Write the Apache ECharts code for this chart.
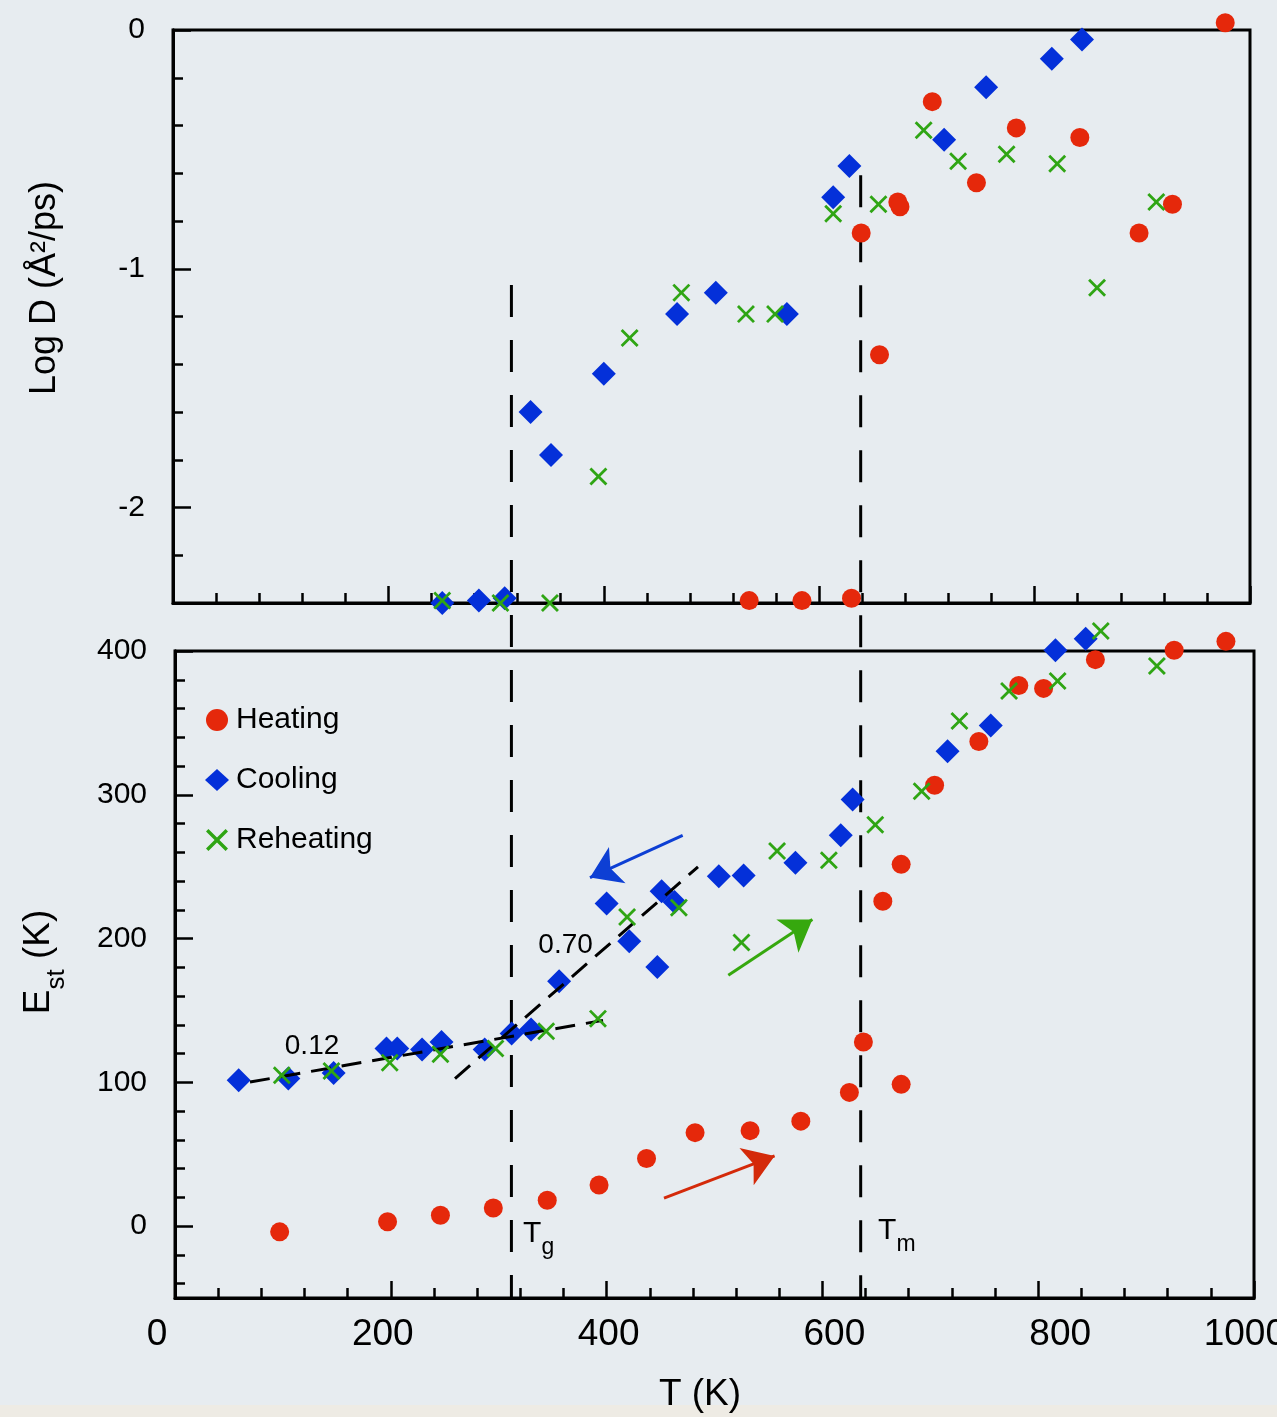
<!DOCTYPE html>
<html>
<head>
<meta charset="utf-8">
<script src="https://cdn.jsdelivr.net/npm/echarts@6.0.0/dist/echarts.min.js"></script>
<style>
  html, body { margin: 0; padding: 0; background: #e7ecf0; }
  #chart { width: 1277px; height: 1417px; }
</style>
</head>
<body>
<div id="chart"></div>
<script>
const FONT = '"Liberation Sans", Arial, Helvetica, sans-serif'

// --- top panel: Log D vs T
const heatTopT = [535, 584, 630, 639, 656, 673, 675, 705, 746, 783, 842, 897, 928, 977]
const heatTopD = [-2.39, -2.39, -2.38, -0.85, -1.36, -0.72, -0.74, -0.30, -0.64, -0.41, -0.45, -0.85, -0.73, 0.03]
const coolTopT = [250, 284, 308, 332, 351, 400, 468, 504, 570, 613, 628, 716, 755, 816, 844]
const coolTopD = [-2.40, -2.39, -2.38, -1.60, -1.78, -1.44, -1.19, -1.10, -1.19, -0.70, -0.57, -0.46, -0.24, -0.12, -0.04]
const reheatTopT = [250, 304, 350, 395, 424, 472, 532, 559, 613, 655, 697, 729, 774, 821, 858, 913]
const reheatTopD = [-2.39, -2.40, -2.40, -1.87, -1.29, -1.10, -1.19, -1.19, -0.77, -0.73, -0.42, -0.55, -0.52, -0.56, -1.08, -0.72]

// --- bottom panel: E_st vs T
const heatT = [97, 197, 246, 295, 345, 393, 437, 482, 533, 580, 625, 638, 673, 656, 673, 704, 745, 782, 805, 853, 926, 974]
const heatE = [-4, 3, 7.5, 12.6, 18, 28.6, 47, 65, 66.4, 73, 93, 128, 98.6, 226, 251.6, 306.6, 337, 376, 374, 394, 400.5, 406.7]
const coolT = [59, 105, 147, 196, 206, 229, 247, 287, 312, 330, 356, 400, 421, 447, 451, 463, 504, 527, 575, 617, 628, 716, 756, 816, 844]
const coolE = [101.4, 102.6, 106.5, 123.5, 123.5, 122.8, 128, 122.8, 133.9, 136.7, 170.3, 224.3, 198.1, 180.2, 232.9, 225.4, 243.3, 243.8, 252.8, 271.8, 296.8, 330.2, 348.1, 400.5, 408.6]
const reheatT = [99, 145, 199, 246, 297, 344, 392, 419, 467, 525, 558, 606, 649, 692, 727, 773, 818, 858, 910]
const reheatE = [104.9, 107.9, 113.7, 119.5, 123.5, 135.5, 144.3, 215, 221.5, 197.2, 260.9, 254.4, 279.2, 302.4, 351.3, 372.2, 379.1, 413.9, 389.6]

// dashed fits (slopes 0.12 and 0.70)
const fitLow = [[69.5, 100.2], [396.7, 143.1]]
const fitHigh = [[259.5, 102.6], [484.7, 249.8]]

// arrows [tail, head]
const arrowCool = [[470.5, 271.8], [384.6, 242.4]]
const arrowReheat = [[512.8, 174.4], [590.7, 213.2]]
const arrowHeat = [[453.2, 19.5], [555.7, 48.8]]

// Tg / Tm marker lines (overlay axis in E_st units)
const tgLine = [[313, 654.6], [313, -50]]
const tmLine = [[637, 731], [637, -50]]

// text annotations
const notes = [
  { value: [127, 125], text: '{n|0.12}' },
  { value: [362, 195.3], text: '{n|0.70}' },
  { value: [337, -9], text: '{a|T}{s|g}' },
  { value: [669, -7], text: '{a|T}{s|m}' }
]

// ticks
const topMajor = [-2, -1, 0]
const topMinor = []
for (let v = -2.2; v < 0.01; v += 0.2) topMinor.push(Math.round(v * 10) / 10)
const botMajor = [0, 100, 200, 300, 400]
const botMinor = []
for (let v = -40; v <= 400; v += 20) botMinor.push(v)

const RED = '#e5280b'
const BLUE = '#0430d9'
const GREEN = '#2fa514'
const crossPath = 'path://M0,1.1L1.1,0L5,3.9L8.9,0L10,1.1L6.1,5L10,8.9L8.9,10L5,6.1L1.1,10L0,8.9L3.9,5Z'

const pairs = (xs, ys) => xs.map((x, i) => [x, ys[i]])

const axisLine = { show: true, onZero: false, lineStyle: { color: '#000', width: 3 } }

const xAxisBase = gridIndex => ({
  type: 'value', gridIndex, min: 0, max: 1000, interval: 200, position: 'bottom',
  axisLine,
  axisTick: { inside: true, length: 17, lineStyle: { color: '#000', width: 2.5 } },
  minorTick: { show: true, splitNumber: 5, length: 10, lineStyle: { color: '#000', width: 2.5 } },
  splitLine: { show: false },
  axisLabel: { show: false }
})

const yAxisPair = (gridIndex, min, max, minor, major, fmt) => [
  {
    type: 'value', gridIndex, min, max, position: 'left',
    axisLine,
    axisTick: { inside: true, length: 10, customValues: minor, lineStyle: { color: '#000', width: 2.5 } },
    axisLabel: { show: false },
    splitLine: { show: false }
  },
  {
    type: 'value', gridIndex, min, max, position: 'left',
    axisLine,
    axisTick: { inside: true, length: 18, customValues: major, lineStyle: { color: '#000', width: 2.5 } },
    axisLabel: { customValues: major, fontSize: 30, fontFamily: FONT, color: '#000', margin: 28, formatter: fmt },
    splitLine: { show: false }
  }
]

const scatter = (name, data, xi, yi, kind) => {
  const s = {
    name, type: 'scatter', data, xAxisIndex: xi, yAxisIndex: yi, clip: false,
    emphasis: { disabled: true }
  }
  if (kind === 'heat') Object.assign(s, { symbol: 'circle', symbolSize: 19, itemStyle: { color: RED, opacity: 1 }, z: 3 })
  if (kind === 'cool') Object.assign(s, { symbol: 'diamond', symbolSize: 24, itemStyle: { color: BLUE, opacity: 1 }, z: 4 })
  if (kind === 'reheat') Object.assign(s, { symbol: crossPath, symbolSize: 18, itemStyle: { color: GREEN, opacity: 1 }, z: 6 })
  return s
}

const dashLine = (data, xi, yi, dash, z) => ({
  type: 'line', data, xAxisIndex: xi, yAxisIndex: yi, symbol: 'none', silent: true,
  lineStyle: { color: '#000', width: 3, type: dash }, z
})

const arrow = (coords, color) => ({ coords, lineStyle: { color } })

const gridBox = { show: true, borderColor: '#000', borderWidth: 3, backgroundColor: 'transparent', outerBoundsMode: 'none', containLabel: false }

const option = {
  animation: false,
  backgroundColor: '#e7ecf0',
  textStyle: { fontFamily: FONT },
  grid: [
    { left: 173, right: 27, top: 30, bottom: 814, ...gridBox },
    { left: 175, right: 23, top: 651, bottom: 119, ...gridBox },
    { left: 174, right: 25, top: 30, bottom: 119, show: false, outerBoundsMode: 'none' },
    // T tick labels sit on a slightly wider span than the ticks in the original
    { left: 157, right: -9, top: 651, bottom: 119, show: false, outerBoundsMode: 'none' }
  ],
  xAxis: [
    xAxisBase(0),
    xAxisBase(1),
    { type: 'value', gridIndex: 2, min: 0, max: 1000, show: false },
    {
      type: 'value', gridIndex: 3, min: 0, max: 1000, interval: 200, position: 'bottom',
      axisLine: { show: false }, axisTick: { show: false }, splitLine: { show: false },
      axisLabel: { fontSize: 37, fontFamily: FONT, color: '#000', margin: 18, alignMaxLabel: 'right', formatter: v => String(v) }
    }
  ],
  yAxis: [
    ...yAxisPair(0, -2.4, 0, topMinor, topMajor, v => String(Math.round(v))),
    ...yAxisPair(1, -50, 400, botMinor, botMajor, v => String(v)),
    { type: 'value', gridIndex: 2, min: -50, max: 832, show: false },
    { type: 'value', gridIndex: 3, min: -50, max: 400, show: false }
  ],
  legend: {
    data: ['Heating', 'Cooling', 'Reheating'],
    orient: 'vertical', left: 200, top: 700,
    itemWidth: 24, itemHeight: 22, itemGap: 30,
    selectedMode: false,
    textStyle: { fontSize: 30, fontFamily: FONT, color: '#000', padding: [0, 0, 0, 2] }
  },
  graphic: [
    { type: 'rect', shape: { x: 0, y: 1405, width: 1277, height: 12 }, style: { fill: '#eeebe4' }, silent: true },
    {
      type: 'text', x: 45, y: 288, rotation: Math.PI / 2,
      style: { text: 'Log D (Å²/ps)', fontSize: 36, fontFamily: FONT, fill: '#000', align: 'center', verticalAlign: 'middle', textAlign: 'center', textVerticalAlign: 'middle' }
    },
    {
      type: 'text', x: 45, y: 962, rotation: Math.PI / 2,
      style: {
        text: '{a|E}{b|st}{a| (K)}', fill: '#000', align: 'center', verticalAlign: 'middle', textAlign: 'center', textVerticalAlign: 'middle',
        rich: {
          a: { fontSize: 37, fontFamily: FONT, lineHeight: 50, verticalAlign: 'top', fill: '#000' },
          b: { fontSize: 26, fontFamily: FONT, lineHeight: 26, verticalAlign: 'bottom', fill: '#000' }
        }
      }
    },
    {
      type: 'text', x: 700, y: 1395,
      style: { text: 'T (K)', fontSize: 37, fontFamily: FONT, fill: '#000', align: 'center', verticalAlign: 'middle', textAlign: 'center', textVerticalAlign: 'middle' }
    }
  ],
  series: [
    scatter('Heating', pairs(heatTopT, heatTopD), 0, 0, 'heat'),
    scatter('Cooling', pairs(coolTopT, coolTopD), 0, 0, 'cool'),
    scatter('Reheating', pairs(reheatTopT, reheatTopD), 0, 0, 'reheat'),
    scatter('Heating', pairs(heatT, heatE), 1, 2, 'heat'),
    scatter('Cooling', pairs(coolT, coolE), 1, 2, 'cool'),
    scatter('Reheating', pairs(reheatT, reheatE), 1, 2, 'reheat'),
    dashLine(fitLow, 1, 2, [20, 11], 5),
    dashLine(fitHigh, 1, 2, [20, 11], 5),
    dashLine(tgLine, 2, 4, [32, 23], 2),
    dashLine(tmLine, 2, 4, [32, 23], 2),
    {
      type: 'lines', coordinateSystem: 'cartesian2d', xAxisIndex: 1, yAxisIndex: 2,
      symbol: ['none', 'arrow'], symbolSize: 30, silent: true,
      lineStyle: { width: 3, opacity: 1 },
      data: [
        arrow(arrowCool, '#0d3fd4'),
        arrow(arrowReheat, '#36a80e'),
        arrow(arrowHeat, '#d42a0a')
      ],
      z: 7
    },
    {
      type: 'scatter', xAxisIndex: 1, yAxisIndex: 2, symbolSize: 1, clip: false, silent: true,
      itemStyle: { color: 'rgba(0,0,0,0)', opacity: 1 },
      data: notes.map(n => ({ value: n.value, text: n.text })),
      label: {
        show: true, position: 'inside', color: '#000', opacity: 1, fontSize: 27, fontFamily: FONT,
        textBorderWidth: 0,
        formatter: p => p.data.text,
        rich: {
          n: { fontSize: 28, fontFamily: FONT, color: '#000', opacity: 1, textBorderWidth: 0 },
          a: { fontSize: 30, fontFamily: FONT, lineHeight: 40, verticalAlign: 'top', color: '#000', opacity: 1, textBorderWidth: 0 },
          s: { fontSize: 23, fontFamily: FONT, lineHeight: 23, verticalAlign: 'bottom', color: '#000', opacity: 1, textBorderWidth: 0 }
        }
      },
      z: 8
    }
  ]
}

const chart = echarts.init(document.getElementById('chart'))
chart.setOption(option)
</script>
</body>
</html>
